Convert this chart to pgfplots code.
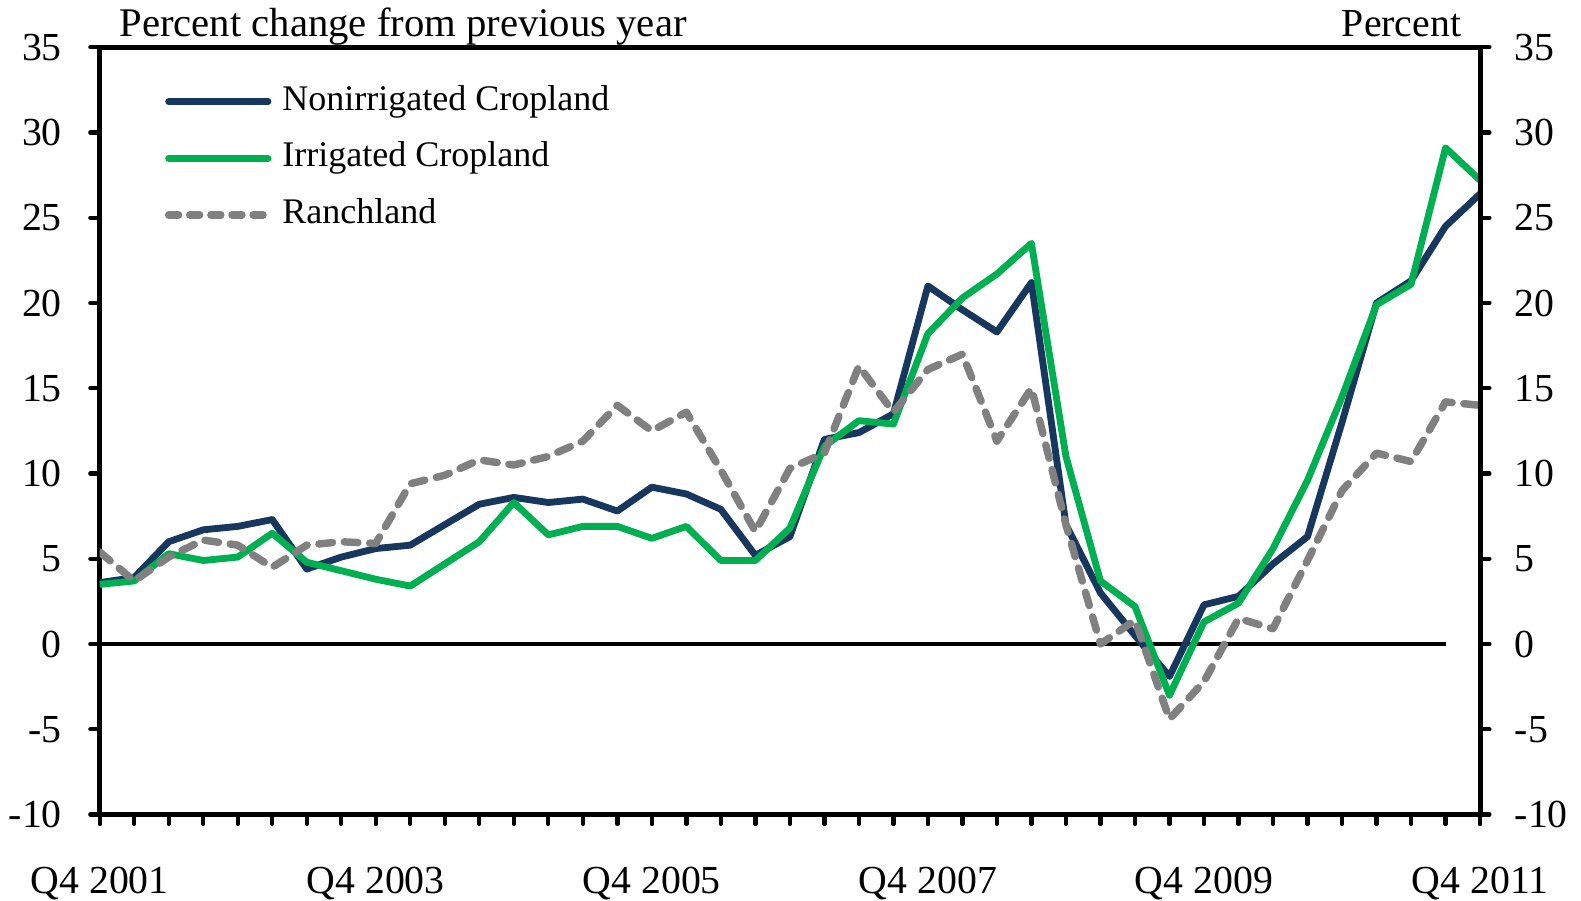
\documentclass[border=0pt]{standalone}
\usepackage{fontspec}
\setmainfont{Liberation Serif}
\usepackage{pgfplots}
\pgfplotsset{compat=1.18}
\usepackage{pgfplotstable}

\definecolor{navy}{HTML}{17375E}
\definecolor{grn}{HTML}{00B050}
\definecolor{gry}{HTML}{808080}

% quarters from Q4 2001 (0) to Q4 2011 (40)
\pgfplotstableread{
q  non   irr   ranch
0  3.6   3.5   5.4
1  3.9   3.7   3.7
2  6.0   5.3   5.1
3  6.7   4.9   6.1
4  6.9   5.1   5.8
5  7.3   6.5   4.5
6  4.4   4.8   5.8
7  5.1   4.3   6.0
8  5.6   3.8   5.9
9  5.8   3.4   9.4
10 7.0   4.7   9.9
11 8.2   6.0   10.8
12 8.6   8.3   10.5
13 8.3   6.4   11.0
14 8.5   6.9   11.9
15 7.8   6.9   14.0
16 9.2   6.2   12.5
17 8.8   6.9   13.6
18 7.9   4.9   10.2
19 5.2   4.9   6.6
20 6.3   6.8   10.3
21 12.0  11.6  11.2
22 12.4  13.1  16.3
23 13.5  12.9  13.6
24 21.0  18.2  16.1
25 19.6  20.3  17.0
26 18.3  21.7  11.9
27 21.2  23.5  15.0
28 7.0   11.0  7.0
29 3.0   3.7   0.0
30 0.5   2.2   1.4
31 -1.9  -3.0  -4.4
32 2.3   1.3   -2.2
33 2.8   2.4   1.5
34 4.7   5.6   0.9
35 6.3   9.6   4.9
36 13.0  14.5  9.0
37 20.0  19.9  11.2
38 21.3  21.1  10.7
39 24.5  29.1  14.2
40 26.4  27.2  14.0
}\landdata

\begin{document}
\begin{tikzpicture}
\useasboundingbox (-32.1pt,-27.6pt) rectangle (477pt,262.3pt);
\pgfplotsset{
  frame/.style={
    at={(0,0)}, anchor=south west,
    width=444.5pt, height=247.1pt, scale only axis,
    xmin=0, xmax=40, ymin=-10, ymax=35,
    axis line style={line width=1.6pt},
    tick style={line width=1.4pt, black, line cap=round},
    tick align=outside,
    major tick length=3pt, minor tick length=3pt,
    ytick={-10,-5,...,35},
    yticklabels={-10,-5,0,5,10,15,20,25,30,35},
    ticklabel style={font=\fontsize{12.8}{15}\selectfont, inner sep=0pt},
  },
}
\begin{axis}[
  frame,
  xtick={0,8,...,40},
  minor xtick={0,...,40},
  xticklabels={Q4 2001,Q4 2003,Q4 2005,Q4 2007,Q4 2009,Q4 2011},
  xtick pos=bottom, ytick pos=left,
  xticklabel style={anchor=north, yshift=-13.6pt},
  yticklabel style={anchor=east, xshift=-9pt},
  legend cell align=left,
  legend image code/.code={\draw[#1, line cap=round] (0pt,0pt) -- (32pt,0pt);},
  legend style={draw=none, fill=none, inner sep=0pt,
    at={(0.0468,0.951)}, anchor=north west,
    font=\fontsize{11.6}{14}\selectfont,
    row sep=7.7pt,
    nodes={inner sep=0pt, text height=8pt, text depth=2.5pt},
    /tikz/every odd column/.append style={column sep=3.4pt}},
]
\addplot[black, line width=1.3pt, forget plot] coordinates {(0,0) (39,0)};
\addplot[navy, line width=2.2pt, line join=round] table[x=q, y=non] {\landdata};
\addlegendentry{Nonirrigated Cropland}
\addplot[grn, line width=2.2pt, line join=round] table[x=q, y=irr] {\landdata};
\addlegendentry{Irrigated Cropland}
\addplot[gry, line width=2.4pt, line join=round, line cap=round,
  dash pattern=on 4.4pt off 3.8pt,
  legend image post style={dash pattern=on 3.2pt off 3.6pt}] table[x=q, y=ranch] {\landdata};
\addlegendentry{Ranchland}
\end{axis}
\begin{axis}[
  frame,
  hide x axis,
  axis y line*=right,
  yticklabel style={anchor=west, xshift=8pt},
]
\end{axis}
\node[anchor=base west, inner sep=0pt, font=\fontsize{13.1}{15}\selectfont] at (6.2pt,250.6pt) {Percent change from previous year};
\node[anchor=base east, inner sep=0pt, font=\fontsize{12.8}{15}\selectfont] at (438.6pt,250.6pt) {Percent};
\end{tikzpicture}
\end{document}
